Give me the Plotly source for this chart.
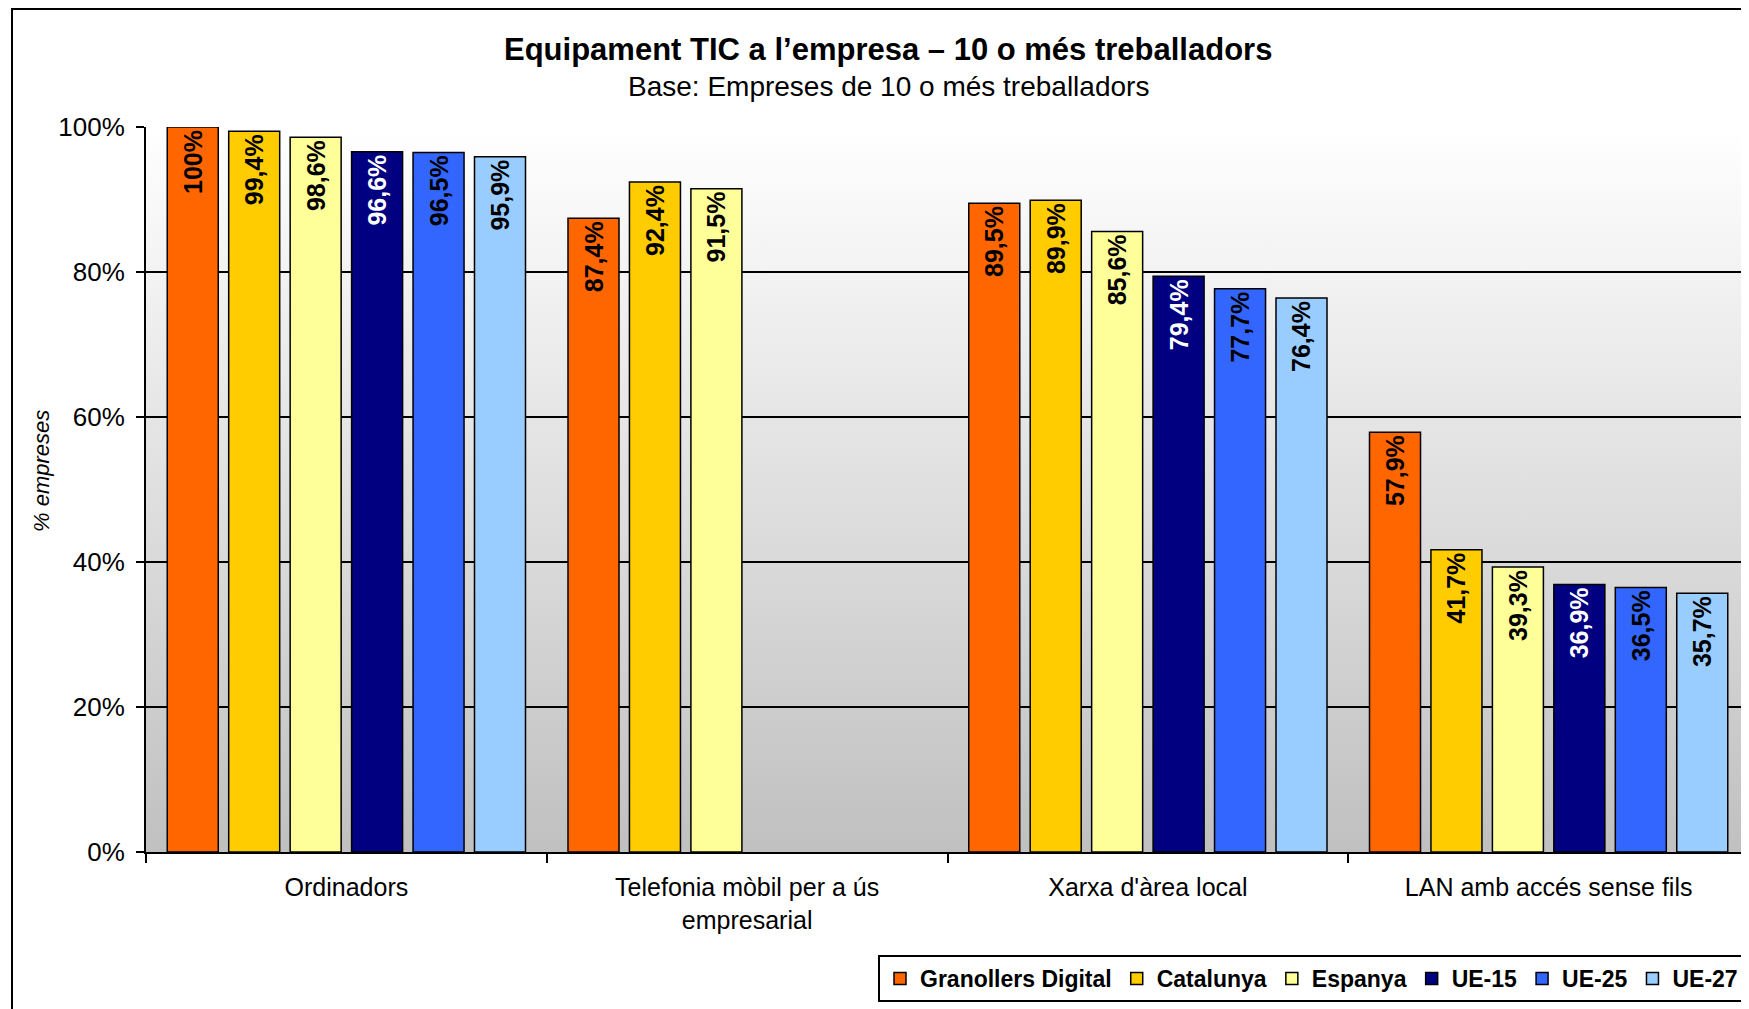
import base64
import plotly.graph_objects as go

# ---- data ----
categories = ["Ordinadors", "Telefonia mòbil per a ús<br>empresarial", "Xarxa d'àrea local", "LAN amb accés sense fils"]
series_names = ["Granollers Digital", "Catalunya", "Espanya", "UE-15", "UE-25", "UE-27"]
granollers = [100.0, 87.4, 89.5, 57.9]
catalunya = [99.4, 92.4, 89.9, 41.7]
espanya = [98.6, 91.5, 85.6, 39.3]
ue15 = [96.6, None, 79.4, 36.9]
ue25 = [96.5, None, 77.7, 36.5]
ue27 = [95.9, None, 76.4, 35.7]
y_ticks = [0, 20, 40, 60, 80, 100]

series_values = [granollers, catalunya, espanya, ue15, ue25, ue27]
colors = ["#FF6600", "#FFCC00", "#FFFF99", "#000080", "#3366FF", "#99CCFF"]
label_colors = ["black", "black", "black", "white", "black", "black"]

FONT = "Liberation Sans, Arial, sans-serif"

# page body has an 8px margin; compensate so the screenshot lines up
OFF = 8
W, H = 1749 - OFF, 1009 - OFF
L, T = 146 - OFF, 127 - OFF
PLOT_BOTTOM = 852 - OFF
R, B = 0, H - PLOT_BOTTOM
PW, PH = W - L - R, H - T - B


def fmt(v):
    if v is None:
        return ""
    if abs(v - round(v)) < 1e-9:
        return f"{int(round(v))}%"
    return f"{v:.1f}".replace(".", ",") + "%"


fig = go.Figure()
for name, vals, col, lc in zip(series_names, series_values, colors, label_colors):
    fig.add_trace(go.Bar(
        name=name,
        x=categories,
        y=vals,
        marker=dict(color=col, line=dict(color="black", width=1.5)),
        text=[fmt(v) for v in vals],
        textposition="inside",
        insidetextanchor="end",
        textangle=-90,
        textfont=dict(family=FONT, size=25, color=lc, weight="bold"),
        constraintext="none",
        hoverinfo="skip",
    ))

svg = ('<svg xmlns="http://www.w3.org/2000/svg" width="100" height="100" preserveAspectRatio="none">'
       '<defs><linearGradient id="g" x1="0" y1="0" x2="0" y2="1">'
       '<stop offset="0" stop-color="#ffffff"/><stop offset="1" stop-color="#c0c0c0"/>'
       '</linearGradient></defs><rect width="100" height="100" fill="url(#g)"/></svg>')
src = "data:image/svg+xml;base64," + base64.b64encode(svg.encode()).decode()


def px_x(x):
    """screenshot x (px) -> paper x"""
    return (x - OFF - L) / PW


def px_y(y):
    """screenshot y (px) -> paper y"""
    return (PLOT_BOTTOM - (y - OFF)) / PH


fig.update_layout(
    width=W, height=H,
    margin=dict(l=L, r=R, t=T, b=B, pad=0, autoexpand=False),
    paper_bgcolor="white",
    plot_bgcolor="rgba(0,0,0,0)",
    barmode="group",
    bargap=0.08,
    bargroupgap=0.17,
    font=dict(family=FONT, color="black"),
    showlegend=True,
    legend=dict(
        orientation="h", x=px_x(878), xanchor="left", y=px_y(955), yanchor="top",
        bordercolor="black", borderwidth=2, bgcolor="white",
        font=dict(family=FONT, size=23, color="black", weight="bold"),
        traceorder="normal", itemwidth=30,
    ),
    images=[dict(source=src, xref="paper", yref="paper", x=0, y=1, sizex=1, sizey=1,
                 xanchor="left", yanchor="top", sizing="stretch", layer="below")],
    shapes=[dict(type="rect", xref="paper", yref="paper",
                 x0=px_x(12), x1=1.2, y0=-0.6, y1=px_y(9),
                 line=dict(color="black", width=2), fillcolor="rgba(0,0,0,0)", layer="below")],
    annotations=[
        dict(text="<b>Equipament TIC a l’empresa – 10 o més treballadors</b>",
             xref="paper", yref="paper", x=px_x(888), y=px_y(49), xanchor="center", yanchor="middle",
             showarrow=False, font=dict(family=FONT, size=31, color="black")),
        dict(text="Base: Empreses de 10 o més treballadors",
             xref="paper", yref="paper", x=px_x(888), y=px_y(87), xanchor="center", yanchor="middle",
             showarrow=False, font=dict(family=FONT, size=28, color="black")),
        dict(text="<i>% empreses</i>",
             xref="paper", yref="paper", x=px_x(41), y=px_y(471), xanchor="center", yanchor="middle",
             textangle=-90, showarrow=False, font=dict(family=FONT, size=22, color="black")),
    ],
)

fig.update_xaxes(
    type="category",
    tickson="boundaries",
    ticks="outside", ticklen=9, tickwidth=2, tickcolor="black",
    showline=True, linecolor="black", linewidth=2,
    showgrid=False,
    tickfont=dict(family=FONT, size=25, color="black"),
    ticklabelstandoff=12,
)
fig.update_yaxes(
    range=[0, 100],
    tickvals=y_ticks,
    ticktext=[f"{v}%" for v in y_ticks],
    ticks="outside", ticklen=8, tickwidth=2, tickcolor="black",
    showline=True, linecolor="black", linewidth=2,
    showgrid=True, gridcolor="black", gridwidth=1.5,
    zeroline=False,
    tickfont=dict(family=FONT, size=26, color="black"),
    ticklabelstandoff=6,
)

fig.write_html("out.html")
